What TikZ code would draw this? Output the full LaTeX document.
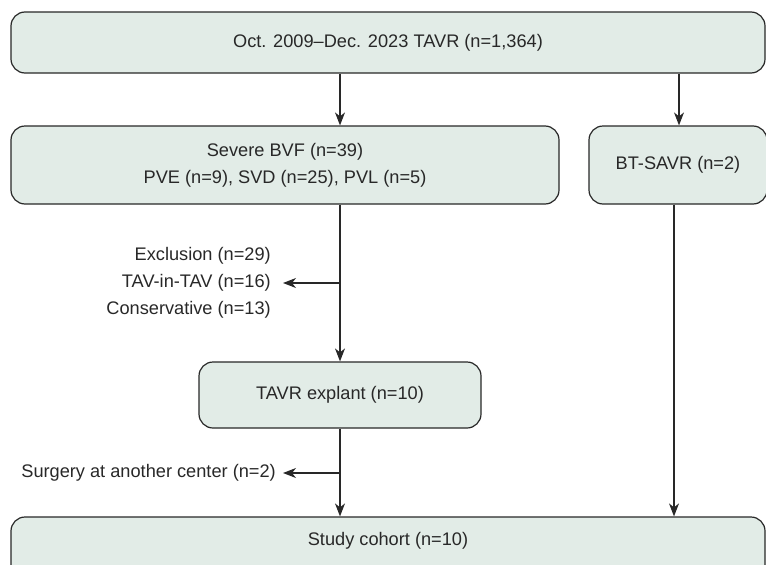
\documentclass[tikz,border=0pt]{standalone}
\usepackage{fontspec}
\setmainfont{Liberation Sans}
\usetikzlibrary{arrows.meta}
\definecolor{boxfill}{RGB}{226,236,231}
\definecolor{ink}{RGB}{40,40,40}
\tikzset{
  box/.style={draw=ink, fill=boxfill, line width=1.2pt, rounded corners=14pt,
    inner sep=0pt, align=center, text=ink},
  lbl/.style={text=ink, align=right, inner sep=0pt},
  arr/.style={draw=ink, line width=1.2pt, -{Stealth[length=13pt,width=10pt,inset=4pt]}},
  ln/.style={draw=ink, line width=1.2pt}
}
\begin{document}
\begin{tikzpicture}[x=1pt,y=-1pt, font=\fontsize{18.2}{27}\selectfont]
\useasboundingbox (0,0) rectangle (766,565);
\clip (0,0) rectangle (766,565);
% helper x positions
\coordinate (cA) at (340,0);
\coordinate (cB) at (674,0);
\coordinate (cC) at (679,0);
% boxes
\node[box, minimum width=754, minimum height=61] (top) at (388,42.5) {Oct. 2009--Dec. 2023 TAVR (n=1,364)};
\node[box, minimum width=548, minimum height=78] (severe) at (285,165) {Severe BVF (n=39)\\PVE (n=9), SVD (n=25), PVL (n=5)};
\node[box, minimum width=178, minimum height=78] (bt) at (678,165) {BT-SAVR (n=2)};
\node[box, minimum width=282, minimum height=66] (explant) at (340,395) {TAVR explant (n=10)};
\node[box, minimum width=754, minimum height=70] (study) at (388,552) {};
\node[text=ink, inner sep=0pt] (studylbl) at (388,541) {Study cohort (n=10)};
% side labels
\node[lbl, anchor=east] (excl) at (271,283) {Exclusion (n=29)\\TAV-in-TAV (n=16)\\Conservative (n=13)};
\node[lbl, anchor=east] (surg) at (276,473) {Surgery at another center (n=2)};
% connectors
\draw[arr] (top.south -| cA) -- (severe.north -| cA);
\draw[arr] (top.south -| cC) -- (bt.north -| cC);
\draw[arr] (severe.south -| cA) -- (explant.north -| cA);
\draw[arr] (cA |- excl.east) -- ([xshift=12pt]excl.east);
\draw[arr] (explant.south -| cA) -- (study.north -| cA);
\draw[arr] (cA |- surg.east) -- ([xshift=7pt]surg.east);
\draw[arr] (bt.south -| cB) -- (study.north -| cB);
\end{tikzpicture}
\end{document}
